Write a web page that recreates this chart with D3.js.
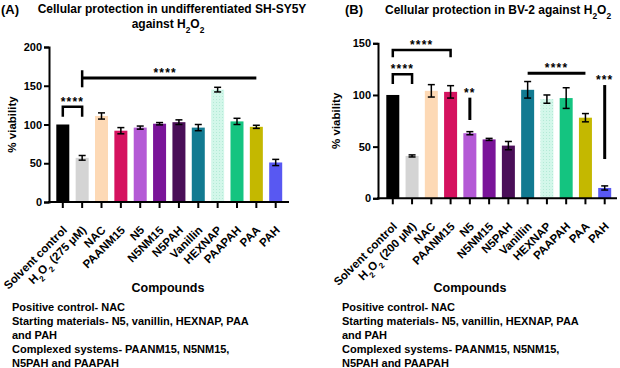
<!DOCTYPE html>
<html>
<head>
<meta charset="utf-8">
<script src="https://cdn.jsdelivr.net/npm/d3@7"></script>
<style>
  body { margin: 0; background: #fff; }
  svg { font-family: "Liberation Sans", Arial, sans-serif; font-weight: bold; }
</style>
</head>
<body>
<svg id="chart" width="620" height="368"></svg>
<script>
// categories shared by both panels
const compounds = ['Solvent control', 'H2O2', 'NAC', 'PAANM15', 'N5', 'N5NM15', 'N5PAH',
  'Vanillin', 'HEXNAP', 'PAAPAH', 'PAA', 'PAH'];
const barColors = ['#000000', '#d4d4d4', '#fdd9b5', '#d5125f', '#b45ad6', '#7a1499', '#4a0f58',
  '#127a91', 'url(#dots)', '#14c480', '#c4b800', '#5858f2'];

// panel A - SH-SY5Y
const viabilityA = [100, 57, 111, 92, 96, 101, 103, 96, 145, 104, 97, 51];
const errA = [0, 3, 4, 4, 2, 1.5, 3, 4, 3, 4, 2, 4];
const ticksA = [0, 50, 100, 150, 200];
// significance marks
const sigA = [
  {type: 'bracket', from: 0, to: 1, y: 123, leg: 13, label: '****'},
  {type: 'line', from: 1, to: 10, y: 160, leg: 0, label: '****'}
];

// panel B - BV-2
const viabilityB = [100, 41, 104, 103, 63, 57, 51, 105, 96, 97, 78, 10];
const errB = [0, 1, 6, 6, 1.5, 1, 4, 8, 4, 10, 4, 2];
const ticksB = [0, 50, 100, 150];
const sigB = [
  {type: 'bracket', from: 0, to: 1, y: 120, leg: 9.5, label: '****'},
  {type: 'bracket', from: 0, to: 3, y: 143.5, leg: 7, label: '****'},
  {type: 'vline', from: 4, to: 4, y: 97.4, y2: 75.8, label: '**'},
  {type: 'line', from: 7, to: 10, y: 121, leg: 0, label: '****'},
  {type: 'vline', from: 11, to: 11, y: 109.6, y2: 38, label: '***'}
];

const footLines = [
  'Positive control- NAC',
  'Starting materials- N5, vanillin, HEXNAP, PAA',
  'and PAH',
  'Complexed systems- PAANM15, N5NM15,',
  'N5PAH and PAAPAH'
];

const svg = d3.select('#chart');

const defs = svg.append('defs');
const pat = defs.append('pattern').attr('id', 'dots')
  .attr('width', 3).attr('height', 3).attr('patternUnits', 'userSpaceOnUse');
pat.append('rect').attr('width', 3).attr('height', 3).attr('fill', '#d3f7ea');
pat.append('rect').attr('width', 1).attr('height', 1).attr('fill', '#b3ead6');

// write text with H2O2 subscripts
function h2o2(sel, rest, size) {
  sel.append('tspan').text('H');
  sel.append('tspan').attr('font-size', size * 0.7).attr('baseline-shift', 'sub').text('2');
  sel.append('tspan').text('O');
  sel.append('tspan').attr('font-size', size * 0.7).attr('baseline-shift', 'sub').text('2');
  if (rest) sel.append('tspan').text(rest);
}

function drawPanel(cfg) {
  const g = svg.append('g');
  const x = d3.scalePoint().domain(d3.range(compounds.length)).range(cfg.xr);
  const y = d3.scaleLinear().domain([0, cfg.ymax]).range(cfg.yr);
  const bw = 13;

  // bars
  g.selectAll('.bar').data(cfg.values).enter().append('rect')
    .attr('x', (d, i) => x(i) - bw / 2)
    .attr('width', bw)
    .attr('y', d => y(d))
    .attr('height', d => y(0) - y(d))
    .attr('fill', (d, i) => barColors[i]);

  // error bars
  const eb = g.selectAll('.err').data(cfg.values.map((v, i) => ({v, e: cfg.err[i], i})).filter(d => d.e > 0))
    .enter().append('g').attr('stroke', '#000').attr('stroke-width', 1.5);
  eb.append('line').attr('x1', d => x(d.i)).attr('x2', d => x(d.i))
    .attr('y1', d => y(d.v - d.e)).attr('y2', d => y(d.v + d.e));
  eb.append('line').attr('x1', d => x(d.i) - 3.5).attr('x2', d => x(d.i) + 3.5)
    .attr('y1', d => y(d.v + d.e)).attr('y2', d => y(d.v + d.e));
  eb.append('line').attr('x1', d => x(d.i) - 3.5).attr('x2', d => x(d.i) + 3.5)
    .attr('y1', d => y(d.v - d.e)).attr('y2', d => y(d.v - d.e));

  // y axis
  const ya = g.append('g').attr('transform', `translate(${cfg.axisX0},0)`)
    .call(d3.axisLeft(y).tickValues(cfg.ticks).tickSize(5).tickPadding(2));
  ya.select('.domain').attr('stroke-width', 2);
  ya.selectAll('.tick line').attr('stroke-width', 2);
  ya.selectAll('.tick text').attr('font-size', 11).attr('font-weight', 'bold').attr('font-family', 'Liberation Sans, Arial');

  // x axis
  const xa = g.append('g').attr('transform', `translate(0,${y(0)})`);
  xa.append('line').attr('x1', cfg.axisX0 - 1).attr('x2', cfg.axisX1).attr('stroke', '#000').attr('stroke-width', 2);
  xa.selectAll('.xt').data(compounds).enter().append('line')
    .attr('x1', (d, i) => x(i)).attr('x2', (d, i) => x(i))
    .attr('y1', 0).attr('y2', 6).attr('stroke', '#000').attr('stroke-width', 2);
  const lab = xa.selectAll('.xl').data(compounds).enter().append('text')
    .attr('text-anchor', 'end').attr('font-size', 11.5)
    .attr('transform', (d, i) => `translate(${x(i) + 2},${26}) rotate(-45)`)
    .attr('dy', '0.35em');
  lab.each(function (d) {
    const t = d3.select(this);
    if (d === 'H2O2') h2o2(t, ` (${cfg.dose})`, 11.5);
    else t.text(d);
  });

  // y title
  g.append('text').attr('text-anchor', 'middle').attr('font-size', 11.5)
    .attr('transform', `translate(${cfg.ylabX},${(cfg.yr[0] + cfg.yr[1]) / 2}) rotate(-90)`)
    .text('% viability');

  // significance
  cfg.sig.forEach(s => {
    const a = x(s.from), b = x(s.to);
    const yy = y(s.y);
    let tx = (a + b) / 2;
    if (s.type === 'bracket') {
      g.append('path').attr('fill', 'none').attr('stroke', '#000').attr('stroke-width', 2.5)
        .attr('d', `M${a},${y(s.y - s.leg)}V${yy}H${b}V${y(s.y - s.leg)}`);
    } else if (s.type === 'line') {
      g.append('line').attr('x1', a).attr('x2', b).attr('y1', yy).attr('y2', yy)
        .attr('stroke', '#000').attr('stroke-width', 3);
      if (cfg.lineTick) {
        g.append('line').attr('x1', a).attr('x2', a).attr('y1', y(s.y + 10)).attr('y2', y(s.y - 12))
          .attr('stroke', '#000').attr('stroke-width', 2.5);
        tx = (a + b) / 2 - 4;
      }
    } else {
      g.append('line').attr('x1', a).attr('x2', a).attr('y1', yy).attr('y2', y(s.y2))
        .attr('stroke', '#000').attr('stroke-width', 3);
    }
    g.append('text').attr('x', tx).attr('y', yy - 1).attr('text-anchor', 'middle')
      .attr('font-size', 12).attr('letter-spacing', 1.2).text(s.label);
  });

  // x title
  g.append('text').attr('x', cfg.compX).attr('y', 292).attr('text-anchor', 'middle')
    .attr('font-size', 12.5).text('Compounds');

  // footnote
  g.selectAll('.foot').data(footLines).enter().append('text')
    .attr('x', cfg.footX).attr('y', (d, i) => 310.5 + i * 14)
    .attr('font-size', 11).text(d => d);

  // panel letter + title
  g.append('text').attr('x', cfg.letterX).attr('y', 14).attr('font-size', 13).text(cfg.letter);
  cfg.title(g);
}

drawPanel({
  values: viabilityA, err: errA, ticks: ticksA, sig: sigA, ymax: 200,
  xr: [62.8, 275.7], yr: [202, 47], axisX0: 49, axisX1: 289, dose: '275 μM',
  ylabX: 16, compX: 168, footX: 12, letterX: 1, letter: '(A)', lineTick: true,
  title: g => {
    g.append('text').attr('x', 172).attr('y', 13).attr('text-anchor', 'middle').attr('font-size', 12)
      .text('Cellular protection in undifferentiated SH-SY5Y');
    const t = g.append('text').attr('x', 168).attr('y', 27.5).attr('text-anchor', 'middle').attr('font-size', 12);
    t.append('tspan').text('against ');
    h2o2(t, '', 12);
  }
});

drawPanel({
  values: viabilityB, err: errB, ticks: ticksB, sig: sigB, ymax: 150,
  xr: [392.8, 604.7], yr: [198.3, 43.3], axisX0: 378, axisX1: 617, dose: '200 μM',
  ylabX: 340, compX: 470, footX: 342, letterX: 345, letter: '(B)', lineTick: false,
  title: g => {
    const t = g.append('text').attr('x', 385).attr('y', 14).attr('font-size', 12);
    t.append('tspan').text('Cellular protection in BV-2 against ');
    h2o2(t, '', 12);
  }
});
</script>
</body>
</html>
